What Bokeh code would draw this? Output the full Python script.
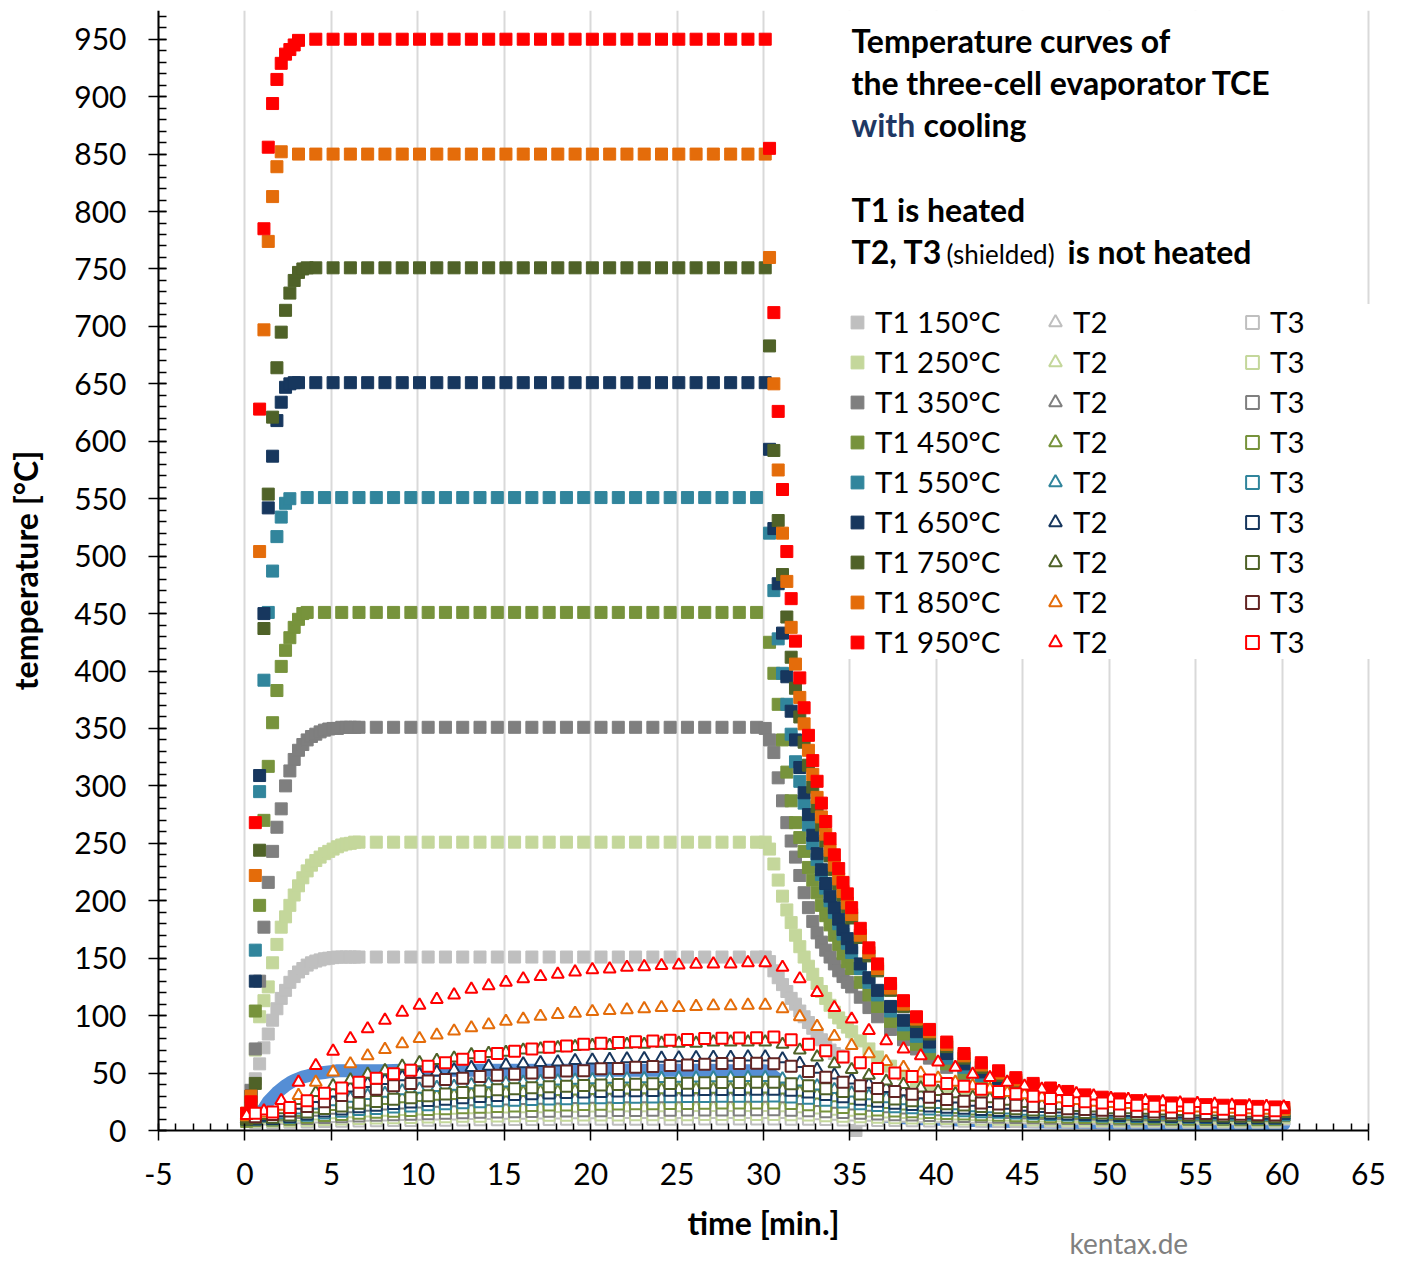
from bokeh.plotting import figure
from bokeh.models import Range1d, FixedTicker, Legend, LegendItem, Label, BoxAnnotation, PrintfTickFormatter
from bokeh.embed import file_html
from bokeh.resources import INLINE

# ---------------- data ----------------
x_ticks = [-5, 0, 5, 10, 15, 20, 25, 30, 35, 40, 45, 50, 55, 60, 65]
y_ticks = [0, 50, 100, 150, 200, 250, 300, 350, 400, 450, 500, 550, 600, 650, 700, 750, 800, 850, 900, 950]

t_heat = [0.1, 0.35, 0.6, 0.85, 1.1, 1.35, 1.6, 1.85, 2.1, 2.35, 2.6, 2.85, 3.1, 3.35, 3.6, 3.85, 4.1,
          4.35, 4.6, 4.85, 5.1, 5.35, 5.6, 5.85, 6.1, 6.35, 6.6]
t_flat_a = [4.1, 5.1, 6.1, 7.1, 8.1, 9.1, 10.1, 11.1, 12.1, 13.1, 14.1, 15.1, 16.1, 17.1, 18.1, 19.1,
            20.1, 21.1, 22.1, 23.1, 24.1, 25.1, 26.1, 27.1, 28.1, 29.1, 30.1]
t_flat_o = [3.1, 4.1, 5.1, 6.1, 7.1, 8.1, 9.1, 10.1, 11.1, 12.1, 13.1, 14.1, 15.1, 16.1, 17.1, 18.1, 19.1,
            20.1, 21.1, 22.1, 23.1, 24.1, 25.1, 26.1, 27.1, 28.1, 29.1, 30.1]
t_flat_b = [3.6, 4.6, 5.6, 6.6, 7.6, 8.6, 9.6, 10.6, 11.6, 12.6, 13.6, 14.6, 15.6, 16.6, 17.6, 18.6,
            19.6, 20.6, 21.6, 22.6, 23.6, 24.6, 25.6, 26.6, 27.6, 28.6, 29.6]
t_flat_c = [7.6, 8.6, 9.6, 10.6, 11.6, 12.6, 13.6, 14.6, 15.6, 16.6, 17.6, 18.6, 19.6, 20.6, 21.6, 22.6,
            23.6, 24.6, 25.6, 26.6, 27.6, 28.6, 29.6, 30.1]
t_blue_flat = [7.1, 8.1, 9.1, 10.1, 11.1, 12.1, 13.1, 14.1, 15.1, 16.1, 17.1, 18.1, 19.1, 20.1, 21.1,
               22.1, 23.1, 24.1, 25.1, 26.1, 27.1, 28.1, 29.1, 30.1]
t_cool = [30.35, 30.6, 30.85, 31.1, 31.35, 31.6, 31.85, 32.1, 32.35, 32.6, 32.85, 33.1, 33.35, 33.6, 33.85,
          34.1, 34.35, 34.6, 34.85, 35.1, 35.6, 36.1, 36.6, 37.35, 38.1, 38.85, 39.6, 40.6, 41.6, 42.6,
          43.6, 44.6, 45.6, 46.6, 47.6, 48.6, 49.6, 50.6, 51.6, 52.6, 53.6, 54.6, 55.6, 56.6, 57.6, 58.6,
          59.6, 60.1]
t_cool_150 = [30.35, 30.6, 30.85, 31.1, 31.35, 31.6, 31.85, 32.1, 32.35, 32.6, 32.85, 33.1, 33.35, 33.6,
              33.85, 34.1, 34.35, 34.6, 35.35]
t_T2 = [0.1, 1.1, 2.1, 3.1, 4.1, 5.1, 6.1, 7.1, 8.1, 9.1, 10.1, 11.1, 12.1, 13.1, 14.1, 15.1, 16.1, 17.1,
        18.1, 19.1, 20.1, 21.1, 22.1, 23.1, 24.1, 25.1, 26.1, 27.1, 28.1, 29.1, 30.1, 31.1, 32.1, 33.1,
        34.1, 35.1, 36.1, 37.1, 38.1, 39.1, 40.1, 41.1, 42.1, 43.1, 44.1, 45.1, 46.1, 47.1, 48.1, 49.1,
        50.1, 51.1, 52.1, 53.1, 54.1, 55.1, 56.1, 57.1, 58.1, 59.1, 60.1]
t_T3 = [0.6, 1.6, 2.6, 3.6, 4.6, 5.6, 6.6, 7.6, 8.6, 9.6, 10.6, 11.6, 12.6, 13.6, 14.6, 15.6, 16.6, 17.6,
        18.6, 19.6, 20.6, 21.6, 22.6, 23.6, 24.6, 25.6, 26.6, 27.6, 28.6, 29.6, 30.6, 31.6, 32.6, 33.6,
        34.6, 35.6, 36.6, 37.6, 38.6, 39.6, 40.6, 41.6, 42.6, 43.6, 44.6, 45.6, 46.6, 47.6, 48.6, 49.6,
        50.6, 51.6, 52.6, 53.6, 54.6, 55.6, 56.6, 57.6, 58.6, 59.6]

# T1 (heated thermocouple)
t1_950_heat = [15, 25, 268, 628, 785, 856, 894, 915, 929, 937, 941, 945, 949]
t1_950_flat = [950, 950, 950, 950, 950, 950, 950, 950, 950, 950, 950, 950, 950, 950, 950, 950, 950, 950,
               950, 950, 950, 950, 950, 950, 950, 950, 950]
t1_950_cool = [855, 712, 626, 558, 504, 463, 426, 394, 368, 344, 322, 304, 285, 269, 254, 240, 228, 216,
               206, 194, 176, 159, 145, 128, 113, 99, 88, 77, 67, 59, 52, 46, 41, 37, 34, 31, 29, 27.5,
               26, 25, 24, 23, 22.5, 22, 21.5, 21, 20.5, 20]

t1_850_heat = [15, 30, 222, 504, 697, 774, 813, 839, 852]
t1_850_flat = [850, 850, 850, 850, 850, 850, 850, 850, 850, 850, 850, 850, 850, 850, 850, 850, 850, 850,
               850, 850, 850, 850, 850, 850, 850, 850, 850, 850]
t1_850_cool = [760, 650, 575, 520, 478, 438, 406, 377, 354, 331, 310, 290, 273, 258, 244, 231, 219, 208,
               198, 188, 170, 155, 141, 124, 110, 97, 86, 75, 65, 57, 50, 44, 39, 35, 32, 29.5, 27.5, 26,
               24.5, 23.5, 22.5, 21.5, 21, 20.5, 20, 19.5, 19, 18.5]

t1_750_heat = [10, 20, 41, 244, 437, 554, 621, 664, 695, 714, 729, 740, 747, 750, 751]
t1_750_flat = [751, 751, 751, 751, 751, 751, 751, 751, 751, 751, 751, 751, 751, 751, 751, 751, 751, 751,
               751, 751, 751, 751, 751, 751, 751, 751, 751]
t1_750_cool = [683, 592, 531, 484, 447, 412, 385, 360, 338, 318, 299, 282, 266, 252, 239, 227, 215, 205,
               195, 185, 168, 152, 139, 122, 108, 95, 84, 73, 63, 55, 48, 42, 37, 33, 30, 27.5, 25.5, 24,
               22.5, 21.5, 20.5, 19.5, 19, 18.5, 18, 17.5, 17, 16.5]

t1_650_heat = [10, 30, 130, 309, 450, 542, 587, 618, 634, 647, 650, 651, 651]
t1_650_flat = [651, 651, 651, 651, 651, 651, 651, 651, 651, 651, 651, 651, 651, 651, 651, 651, 651, 651,
               651, 651, 651, 651, 651, 651, 651, 651, 651]
t1_650_cool = [593, 524, 476, 433, 395, 365, 340, 316, 294, 275, 257, 241, 227, 215, 204, 194, 184, 175,
               167, 159, 145, 133, 122, 108, 96, 86, 77, 67, 58, 51, 45, 40, 35.5, 32, 29, 26.5, 24.5, 23,
               21.5, 20.5, 19.5, 18.5, 18, 17.5, 17, 16.5, 16, 15.5]

t1_550_heat = [10, 29, 157, 295, 392, 451, 487, 517, 534, 546, 550]
t1_550_flat = [551, 551, 551, 551, 551, 551, 551, 551, 551, 551, 551, 551, 551, 551, 551, 551, 551, 551,
               551, 551, 551, 551, 551, 551, 551, 551, 551]
t1_550_cool = [520, 470, 428, 398, 371, 345, 321, 304, 285, 266, 250, 236, 223, 211, 200, 190, 180, 171,
               163, 155, 141, 129, 118, 104, 92, 82, 73, 63, 55, 48, 42, 37.5, 33.5, 30, 27.5, 25, 23,
               21.5, 20, 19, 18, 17.5, 17, 16.5, 16, 15.5, 15, 14.5]

t1_450_heat = [8, 25, 104, 196, 270, 317, 355, 383, 404, 418, 429, 438, 445, 450]
t1_450_flat = [451, 451, 451, 451, 451, 451, 451, 451, 451, 451, 451, 451, 451, 451, 451, 451, 451, 451,
               451, 451, 451, 451, 451, 451, 451, 451, 451]
t1_450_cool = [425, 398, 371, 340, 312, 287, 268, 255, 243, 229, 218, 207, 196, 187, 179, 170, 162, 154,
               147, 141, 129, 118, 108, 95, 84, 75, 67, 58, 50, 44, 39, 35, 31.5, 28.5, 26, 24, 22, 20.5,
               19.5, 18.5, 17.5, 17, 16.5, 16, 15.5, 15, 14.5, 14]

t1_350_heat = [10, 35, 71, 130, 177, 216, 243, 264, 280, 300, 313, 323, 331, 336, 340, 343, 345, 347,
               348.5, 349.5, 350, 350, 351, 351, 351, 351, 351]
t1_350_flat = [351, 351, 351, 351, 351, 351, 351, 351, 351, 351, 351, 351, 351, 351, 351, 351, 351, 351,
               351, 351, 351, 351, 351, 350]
t1_350_cool = [340, 329, 307, 287, 268, 252, 238, 222, 207, 194, 182, 172, 164, 157, 151, 145, 139, 134,
               129, 125, 116, 107, 99, 88, 79, 71, 63, 55, 48, 42, 37, 33, 29.5, 26.5, 24, 22, 20.5, 19,
               18, 17, 16.5, 16, 15.5, 15, 14.5, 14, 14, 13.5]

t1_250_heat = [9, 30, 70, 99, 113, 125, 146, 162, 177, 186, 196, 205, 213, 220, 226, 231, 235, 238, 241,
               243, 245, 247, 248.5, 249.5, 250, 251, 251]
t1_250_flat = [251, 251, 251, 251, 251, 251, 251, 251, 251, 251, 251, 251, 251, 251, 251, 251, 251, 251,
               251, 251, 251, 251, 251, 251]
t1_250_cool = [245, 232, 218, 204, 192, 181, 170, 160, 151, 143, 136, 128, 121, 115, 109, 103, 98, 94,
               90, 86, 78, 71, 64, 56, 49, 43, 38, 33, 29, 26, 23.5, 21.5, 20, 18.5, 17.5, 16.5, 15.5, 15,
               14.5, 14, 13.5, 13, 12.5, 12.5, 12, 12, 11.5, 11.5]

t1_150_heat = [8, 30, 45, 58, 72, 84, 96, 106, 115, 122, 129, 134, 138, 141, 144, 146, 147.5, 148.5,
               149.5, 150, 150.5, 151, 151, 151, 151, 151, 151]
t1_150_flat = [151, 151, 151, 151, 151, 151, 151, 151, 151, 151, 151, 151, 151, 151, 151, 151, 151, 151,
               151, 151, 151, 151, 151, 151]
t1_150_cool = [147, 139, 133, 127, 121, 115, 110, 104, 99, 94, 89, 84, 79, 74, 70, 67, 65, 64, 0]

# unlabelled blue trace
blue_heat = [12, 15, 19, 25, 29, 33, 36, 39, 41.5, 43.5, 45, 46.5, 47.5, 48.5, 49.5, 50, 50.5, 51, 51.5,
             52, 52, 52, 52]
blue_flat = [52, 52, 52.5, 52.5, 52.5, 52.5, 52.5, 52.5, 52.5, 52.5, 52.5, 52.5, 52.5, 52.5, 52.5, 52.5,
             52.5, 52.5, 52.5, 52.5, 52.5, 52, 52, 52]
blue_cool = [50, 47, 44, 41, 38, 35.5, 33, 31, 29, 27, 25.5, 24, 22.5, 21, 20, 19, 18, 17.2, 16.5, 16, 15,
             14, 13, 12, 11, 10.5, 10, 9.5, 9, 8.5, 8, 7.8, 7.6, 7.4, 7.2, 7, 6.8, 6.6, 6.4, 6.2, 6, 6,
             5.8, 5.8, 5.6, 5.6, 5.5, 5.5]

# T2 (triangles), sampled every minute
t2_950 = [13, 17, 26, 42, 56.5, 69, 80, 88.5, 96, 103, 109, 114, 118, 123, 126, 129, 132, 134, 136, 138,
          140, 140.6, 142, 142.6, 143.5, 144, 144.6, 145, 145, 146, 146,
          142, 132, 120, 107, 97, 87, 78, 71, 65, 59.5, 55, 49, 46, 42, 38.6, 36, 34, 32, 30, 28, 27, 26,
          25, 24, 23.5, 23, 22, 21.5, 21, 20.5]
t2_850 = [12, 15, 21, 30.5, 42, 51, 58, 65, 70.5, 75.4, 80, 83, 86.5, 89.4, 92, 95, 97, 99.4, 101, 102,
          103.5, 104.4, 105, 106, 107, 107, 108, 108.5, 108.5, 109, 109,
          106, 99, 90.5, 82, 74, 66.7, 60, 55, 50, 45.5, 42, 39, 36, 33, 31, 29, 27.5, 26, 24.5, 23.5,
          22.5, 21.5, 20.5, 20, 19.5, 19, 18.5, 18, 17.5, 17]
t2_750 = [11, 13, 18, 26, 33, 39, 44, 49, 52, 56, 59, 61, 63, 66, 67, 68, 70, 71, 72, 73, 74, 74, 75, 75,
          76, 76, 76, 77, 77, 77, 77,
          75, 70, 64, 58, 53, 48, 43, 40, 37, 34, 32, 29, 27.5, 25.5, 23.5, 22, 21.5, 20, 19.5, 18, 18,
          17.5, 17, 16.5, 16, 16, 15.5, 15, 15, 14.7]
t2_650 = [10, 11.6, 15.4, 21.9, 27.8, 32.7, 37, 40.8, 43.5, 46.7, 48.9, 51, 52.7, 54.8, 55.9, 57, 58,
          59.1, 59.7, 60.8, 61.3, 61.8, 62.4, 62.6, 62.9, 63.2, 63.5, 63.7, 63.7, 64, 64,
          62.4, 58.3, 53.2, 48.3, 44, 40.2, 36.5, 33.8, 31, 28.9, 27.3, 24.6, 23.5, 21.9, 20.3, 19.2,
          18.6, 17.6, 17, 15.9, 15.7, 15.4, 14.9, 14.5, 14.3, 14, 13.7, 13.5, 13.2, 13]
t2_550 = [10, 11.1, 13.6, 17.9, 21.9, 25.1, 28, 30.5, 32.3, 34.5, 35.9, 37.4, 38.4, 39.9, 40.6, 41.3, 42,
          42.8, 43.1, 43.8, 44.2, 44.6, 44.9, 45.1, 45.3, 45.5, 45.6, 45.8, 45.8, 46, 46,
          44.9, 42.2, 38.8, 35.6, 32.7, 30.2, 27.6, 25.8, 24, 22.6, 21.5, 19.7, 19, 17.9, 16.8, 16.1,
          15.8, 15, 14.7, 14, 13.8, 13.6, 13.2, 13, 12.9, 12.7, 12.4, 12.3, 12.2, 12]
t2_450 = [10, 10.8, 12.6, 15.7, 18.6, 20.9, 23, 24.8, 26.1, 27.7, 28.7, 29.8, 30.5, 31.6, 32.1, 32.6,
          33.1, 33.7, 33.9, 34.4, 34.7, 35, 35.2, 35.4, 35.5, 35.6, 35.7, 35.9, 35.9, 36, 36,
          35.2, 33.3, 30.8, 28.5, 26.4, 24.6, 22.7, 21.4, 20.1, 19.1, 18.3, 17, 16.5, 15.7, 14.9, 14.4,
          14.2, 13.6, 13.4, 12.9, 12.7, 12.6, 12.3, 12.2, 12.1, 12, 11.8, 11.7, 11.6, 11.5]
t2_350 = [10, 10.5, 11.8, 14, 15.9, 17.6, 19, 20.3, 21.2, 22.2, 23, 23.7, 24.2, 24.9, 25.3, 25.7, 26,
          26.4, 26.6, 26.9, 27.1, 27.3, 27.5, 27.6, 27.6, 27.7, 27.8, 27.9, 27.9, 28, 28,
          27.5, 26.1, 24.4, 22.8, 21.3, 20.1, 18.8, 17.9, 17, 16.3, 15.8, 14.9, 14.5, 14, 13.4, 13.1,
          12.9, 12.5, 12.3, 12, 11.9, 11.8, 11.6, 11.5, 11.4, 11.4, 11.2, 11.2, 11.1, 11]
t2_250 = [9, 9.3, 10.1, 11.4, 12.6, 13.6, 14.5, 15.3, 15.8, 16.5, 16.9, 17.4, 17.7, 18.1, 18.4, 18.6,
          18.8, 19, 19.1, 19.3, 19.5, 19.6, 19.7, 19.7, 19.8, 19.8, 19.9, 19.9, 19.9, 20, 20,
          19.7, 18.8, 17.8, 16.8, 15.9, 15.2, 14.4, 13.8, 13.3, 12.9, 12.5, 12, 11.8, 11.4, 11.1, 10.9,
          10.8, 10.5, 10.4, 10.2, 10.2, 10.1, 10, 9.9, 9.9, 9.8, 9.7, 9.7, 9.7, 9.6]
t2_150 = [8, 8.2, 8.6, 9.3, 10, 10.5, 11, 11.4, 11.7, 12.1, 12.3, 12.6, 12.7, 13, 13.1, 13.2, 13.3, 13.5,
          13.5, 13.6, 13.7, 13.8, 13.8, 13.9, 13.9, 13.9, 13.9, 14, 14, 14, 14,
          13.8, 13.4, 12.8, 12.3, 11.8, 11.4, 10.9, 10.6, 10.3, 10.1, 9.9, 9.6, 9.5, 9.3, 9.1, 9, 9, 8.8,
          8.8, 8.7, 8.6, 8.6, 8.5, 8.5, 8.5, 8.5, 8.4, 8.4, 8.4, 8.3]

# T3 (open squares), sampled every minute
t3_950 = [15, 16, 20, 26, 32.5, 37, 42, 45.5, 49.5, 52.5, 56, 59, 62, 64.5, 67, 69, 71, 72.5, 73.5, 75,
          76, 76.7, 77.3, 78, 78.6, 79.3, 80, 80.4, 80.6, 80.8, 81.5,
          79, 75, 69.5, 64, 59, 54, 50, 47, 44, 41, 38.6, 36, 34, 32, 29.8, 27.8, 26.2, 25, 24, 23, 22,
          21.2, 20.5, 19.8, 19.2, 18.6, 18.1, 17.6, 17.2]
t3_850 = [12, 14, 17, 21, 25, 30.5, 34, 36, 39, 41, 43, 44.4, 45.5, 47, 48, 49, 50, 50.8, 51.7, 52, 53.7,
          54, 55, 55.7, 56.5, 57, 57.6, 58.3, 58.3, 58.6, 58,
          56, 51.3, 46.4, 42, 39, 36.5, 34, 31.5, 29, 27, 25.5, 24, 23, 22, 21, 20, 19, 18.3, 17.6, 17,
          16.5, 16, 15.5, 15, 14.7, 14.4, 14.1, 13.8, 13.5]
t3_750 = [11, 11.5, 13.4, 16.2, 19.2, 21.3, 23.7, 25.3, 27.2, 28.6, 30.3, 31.7, 33.1, 34.3, 35.4, 36.4,
          37.3, 38, 38.5, 39.2, 39.6, 40, 40.3, 40.6, 40.9, 41.2, 41.5, 41.7, 41.8, 41.9, 42,
          40.8, 39, 36.4, 34, 31.7, 29.3, 27.4, 26, 24.6, 23.2, 22.1, 20.9, 19.9, 19, 17.9, 17, 16.3,
          15.7, 15.2, 14.8, 14.3, 13.9, 13.6, 13.3, 13, 12.7, 12.5, 12.2, 12]
t3_650 = [10, 10.4, 12, 14.3, 16.9, 18.7, 20.6, 22, 23.6, 24.8, 26.1, 27.3, 28.5, 29.5, 30.5, 31.3, 32,
          32.6, 33, 33.6, 34, 34.3, 34.5, 34.8, 35.1, 35.3, 35.6, 35.8, 35.8, 35.9, 36,
          35, 33.5, 31.3, 29.3, 27.3, 25.4, 23.8, 22.6, 21.4, 20.2, 19.3, 18.3, 17.5, 16.7, 15.8, 15,
          14.4, 14, 13.5, 13.1, 12.8, 12.4, 12.2, 11.9, 11.7, 11.4, 11.2, 11, 10.9]
t3_550 = [10, 10.3, 11.5, 13.3, 15.3, 16.7, 18.2, 19.2, 20.5, 21.4, 22.4, 23.3, 24.2, 25, 25.8, 26.4, 27,
          27.4, 27.7, 28.2, 28.5, 28.7, 28.9, 29.1, 29.3, 29.5, 29.7, 29.8, 29.9, 29.9, 30,
          29.2, 28, 26.4, 24.8, 23.3, 21.8, 20.6, 19.7, 18.8, 17.9, 17.2, 16.4, 15.8, 15.2, 14.5, 13.9,
          13.4, 13, 12.7, 12.4, 12.1, 11.9, 11.7, 11.5, 11.3, 11.1, 10.9, 10.8, 10.7]
t3_450 = [9, 9.2, 10.1, 11.5, 13, 14, 15.1, 15.9, 16.8, 17.5, 18.3, 19, 19.7, 20.3, 20.8, 21.3, 21.7,
          22.1, 22.3, 22.6, 22.9, 23, 23.2, 23.3, 23.5, 23.6, 23.8, 23.9, 23.9, 24, 24,
          23.4, 22.5, 21.3, 20.1, 19, 17.9, 17, 16.3, 15.6, 14.9, 14.4, 13.8, 13.3, 12.9, 12.4, 11.9,
          11.6, 11.3, 11, 10.8, 10.6, 10.4, 10.2, 10.1, 10, 9.8, 9.7, 9.6, 9.5]
t3_350 = [9, 9.1, 9.7, 10.5, 11.4, 12, 12.7, 13.2, 13.7, 14.1, 14.6, 15, 15.4, 15.8, 16.1, 16.4, 16.6,
          16.8, 17, 17.2, 17.3, 17.4, 17.5, 17.6, 17.7, 17.8, 17.9, 17.9, 17.9, 18, 18,
          17.7, 17.1, 16.4, 15.7, 15, 14.3, 13.8, 13.4, 13, 12.5, 12.2, 11.9, 11.6, 11.3, 11, 10.7, 10.5,
          10.4, 10.2, 10.1, 10, 9.8, 9.7, 9.7, 9.6, 9.5, 9.4, 9.4, 9.3]
t3_250 = [8, 8.1, 8.5, 9, 9.6, 10, 10.5, 10.8, 11.1, 11.4, 11.7, 12, 12.3, 12.5, 12.7, 12.9, 13.1, 13.2,
          13.3, 13.5, 13.5, 13.6, 13.7, 13.7, 13.8, 13.8, 13.9, 13.9, 14, 14, 14,
          13.8, 13.4, 12.9, 12.5, 12, 11.5, 11.2, 10.9, 10.6, 10.4, 10.1, 9.9, 9.7, 9.5, 9.3, 9.2, 9,
          8.9, 8.8, 8.7, 8.6, 8.6, 8.5, 8.4, 8.4, 8.3, 8.3, 8.2, 8.2]
t3_150 = [7, 7, 7.2, 7.5, 7.8, 8, 8.2, 8.4, 8.6, 8.7, 8.9, 9, 9.1, 9.3, 9.4, 9.5, 9.5, 9.6, 9.7, 9.7,
          9.8, 9.8, 9.8, 9.9, 9.9, 9.9, 10, 10, 10, 10, 10,
          9.9, 9.7, 9.5, 9.2, 9, 8.8, 8.6, 8.5, 8.3, 8.2, 8.1, 8, 7.9, 7.8, 7.7, 7.6, 7.5, 7.5, 7.4, 7.4,
          7.3, 7.3, 7.2, 7.2, 7.2, 7.2, 7.1, 7.1, 7.1]

temps = [150, 250, 350, 450, 550, 650, 750, 850, 950]
colors = ["#bfbfbf", "#c4d79b", "#7f7f7f", "#77933c", "#31859c", "#17375e", "#4f6228", "#e46c0a", "#ff0000"]
colors_t3 = ["#bfbfbf", "#c4d79b", "#7f7f7f", "#77933c", "#31859c", "#17375e", "#4f6228", "#632523", "#ff0000"]
blue_color = "#558ed5"

T1 = {
    150: (t_heat + t_flat_c + t_cool_150, t1_150_heat + t1_150_flat + t1_150_cool),
    250: (t_heat + t_flat_c + t_cool, t1_250_heat + t1_250_flat + t1_250_cool),
    350: (t_heat + t_flat_c + t_cool, t1_350_heat + t1_350_flat + t1_350_cool),
    450: (t_heat[:14] + t_flat_b + t_cool, t1_450_heat + t1_450_flat + t1_450_cool),
    550: (t_heat[:11] + t_flat_b + t_cool, t1_550_heat + t1_550_flat + t1_550_cool),
    650: (t_heat[:13] + t_flat_a + t_cool, t1_650_heat + t1_650_flat + t1_650_cool),
    750: (t_heat[:15] + t_flat_a + t_cool, t1_750_heat + t1_750_flat + t1_750_cool),
    850: (t_heat[:9] + t_flat_o + t_cool, t1_850_heat + t1_850_flat + t1_850_cool),
    950: (t_heat[:13] + t_flat_a + t_cool, t1_950_heat + t1_950_flat + t1_950_cool),
}
T2 = {150: t2_150, 250: t2_250, 350: t2_350, 450: t2_450, 550: t2_550, 650: t2_650, 750: t2_750,
      850: t2_850, 950: t2_950}
T3 = {150: t3_150, 250: t3_250, 350: t3_350, 450: t3_450, 550: t3_550, 650: t3_650, 750: t3_750,
      850: t3_850, 950: t3_950}
blue_t = t_heat[2:25] + t_blue_flat + t_cool
blue_v = blue_heat + blue_flat + blue_cool

# ---------------- figure ----------------
FONT = "Lato"
W, H = 1405, 1263
AX_L, AX_R = 158, 1368              # page pixel columns of x = -5 and x = 65
FT = 10                             # page pixel row of the top of the value axis
AXIS_Y = 1130                       # page pixel row of the x axis (0 °C)
X_MIN, X_MAX = -5, 65
Y_TOP = 975
PX_PER_MIN = (AX_R - AX_L) / (X_MAX - X_MIN)
PX_PER_DEG = (AXIS_Y - FT) / Y_TOP
# the frame fills the whole page; both axes are pinned at their data positions
X_LO = X_MIN - AX_L / PX_PER_MIN
X_HI = X_MAX + (W - AX_R) / PX_PER_MIN
Y_LO = Y_TOP - (H - FT) / PX_PER_DEG

p = figure(width=W, height=H, x_range=Range1d(X_LO, X_HI), y_range=Range1d(Y_LO, Y_TOP),
           output_backend="svg", toolbar_location=None,
           min_border_left=0, min_border_right=0, min_border_top=FT, min_border_bottom=0)
p.outline_line_color = None
p.background_fill_color = "white"
p.border_fill_color = "white"

p.xaxis.ticker = FixedTicker(ticks=x_ticks, minor_ticks=list(range(-5, 66)))
p.yaxis.ticker = FixedTicker(ticks=y_ticks, minor_ticks=list(range(0, 980, 10)))
p.xaxis.formatter = PrintfTickFormatter(format="%d")
p.yaxis.formatter = PrintfTickFormatter(format="%d")
p.xaxis.fixed_location = 0
p.yaxis.fixed_location = X_MIN
p.xaxis.bounds = (X_MIN, X_MAX)
p.yaxis.bounds = (0, Y_TOP)
for ax in (p.xaxis[0], p.yaxis[0]):
    ax.axis_line_width = 2
    ax.axis_line_color = "black"
    ax.major_tick_line_width = 1.5
    ax.minor_tick_line_width = 1.5
    ax.major_tick_line_color = "black"
    ax.minor_tick_line_color = "black"
    ax.major_label_text_font = FONT
    ax.major_label_text_color = "black"
    ax.major_label_text_font_size = "30px"
    ax.axis_label_text_font = FONT
    ax.axis_label_text_font_style = "bold"
    ax.axis_label_text_color = "black"
    ax.axis_label_text_font_size = "32px"

p.xaxis.major_tick_in = 0
p.xaxis.major_tick_out = 10
p.xaxis.minor_tick_in = 7
p.xaxis.minor_tick_out = 0
p.xaxis.major_label_standoff = 22
p.xaxis.axis_label = "time [min.]"
p.xaxis.axis_label_standoff = 15

p.yaxis.major_tick_in = 8
p.yaxis.major_tick_out = 10
p.yaxis.minor_tick_in = 8
p.yaxis.minor_tick_out = 0
p.yaxis.major_label_standoff = 22
p.yaxis.axis_label = "temperature [°C]"
p.yaxis.axis_label_standoff = 26

p.xgrid.grid_line_color = "#d9d9d9"
p.xgrid.grid_line_width = 2
p.ygrid.visible = False

# white area below the x axis (hides grid lines there)
p.add_layout(BoxAnnotation(left=X_LO - 5, right=X_HI + 5, bottom=Y_LO - 50, top=0, fill_color="white",
                           fill_alpha=1.0, line_color=None, level="underlay"))
# white box behind the title text (hides the grid there)
p.add_layout(BoxAnnotation(left=34.6, right=64.7, bottom=690, top=990,
                           fill_color="white", fill_alpha=1.0, line_color=None))

def check(name, a, b):
    if len(a) != len(b):
        raise ValueError(f"{name}: {len(a)} times vs {len(b)} values")

# unlabelled blue trace (drawn first)
check("blue", blue_t, blue_v)
p.line(blue_t, blue_v, line_color=blue_color, line_width=13, line_cap="round", line_join="round")

r1, r2, r3 = {}, {}, {}
for i, T in enumerate(temps):
    tt, vv = T1[T]
    check(f"T1 {T}", tt, vv)
    check(f"T2 {T}", t_T2, T2[T])
    check(f"T3 {T}", t_T3, T3[T])
    r1[T] = p.scatter(x=tt, y=vv, marker="square", size=12, fill_color=colors[i],
                      line_color=colors[i], line_width=1)
    r2[T] = p.scatter(x=t_T2, y=T2[T], marker="triangle", size=12, fill_color="white",
                      line_color=colors[i], line_width=2)
    r3[T] = p.scatter(x=t_T3, y=T3[T], marker="square", size=11, fill_color="white",
                      line_color=colors_t3[i], line_width=2)

LEG_BOTTOM = 659   # page pixel row of the legend's lower edge

def make_legend(items, sx_left, label_width):
    leg = Legend(items=items, location=(sx_left, H - LEG_BOTTOM), orientation="vertical",
                 padding=0, margin=0, spacing=5, glyph_width=32, glyph_height=32,
                 label_height=34, label_width=label_width, label_standoff=2,
                 border_line_color=None, background_fill_color="white", background_fill_alpha=1.0,
                 label_text_font=FONT, label_text_font_size="29.5px", label_text_color="black")
    p.add_layout(leg)

make_legend([LegendItem(label=f"T1 {T}°C", renderers=[r1[T]]) for T in temps], 841, 164)
make_legend([LegendItem(label="T2", renderers=[r2[T]]) for T in temps], 1039, 163)
make_legend([LegendItem(label="T3", renderers=[r3[T]]) for T in temps], 1236, 102)

def lab(text, sx, sy, size, bold=True, color="black"):
    p.add_layout(Label(x=sx, y=H - sy, x_units="screen", y_units="screen", text=text,
                       text_font=FONT, text_font_size=f"{size}px",
                       text_font_style="bold" if bold else "normal", text_color=color,
                       text_baseline="middle", text_align="left"))

lab("Temperature curves of", 851, 40, 32)
lab("the three-cell evaporator TCE", 851, 82, 32)
lab("with", 851, 124, 32, color="#1f3864")
lab("cooling", 923, 124, 32)
lab("T1 is heated", 851, 209, 32)
lab("T2, T3", 851, 251, 32)
lab("(shielded)", 946, 253, 26, bold=False)
lab("is not heated", 1067, 251, 32)
lab("kentax.de", 1069, 1242, 28, bold=False, color="#808080")

open("out.html", "w").write(file_html(p, INLINE))
